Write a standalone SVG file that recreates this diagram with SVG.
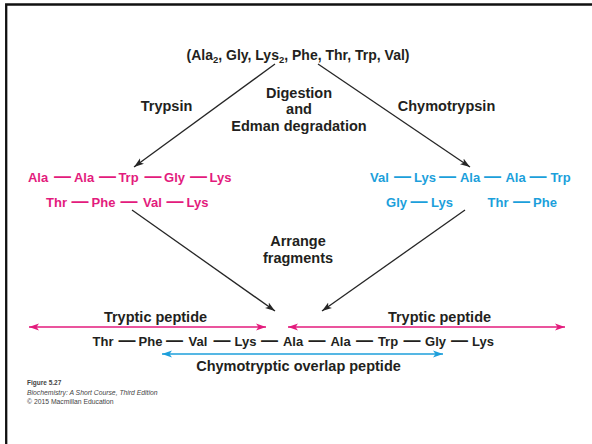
<svg xmlns="http://www.w3.org/2000/svg" width="592" height="444" viewBox="0 0 592 444">
<style>
  .t { font-family: "Liberation Sans", Arial, sans-serif; font-weight: bold; fill: #231f20; text-anchor: middle; }
  .lab { font-size: 14.5px; }
  .aa { font-family: "Liberation Sans", Arial, sans-serif; font-weight: bold; font-size: 13px; text-anchor: middle; }
  .d { font-size: 17px; }
  .pink { fill: #e31b7d; }
  .blue { fill: #1c9fdb; }
  .blk { fill: #231f20; }
  .arr { stroke: #262626; stroke-width: 1.3; fill: none; marker-end: url(#ah); }
  .parr { stroke: #e31b7d; stroke-width: 1.6; fill: none; marker-start: url(#ahp); marker-end: url(#ahp); }
  .barr { stroke: #1c9fdb; stroke-width: 1.6; fill: none; marker-start: url(#ahb); marker-end: url(#ahb); }
  .cap { font-family: "Liberation Sans", Arial, sans-serif; fill: #444; }
</style>
<defs>
  <marker id="ah" markerUnits="userSpaceOnUse" markerWidth="11" markerHeight="8" refX="10" refY="4" orient="auto">
    <path d="M0,0.6 L10,4 L0,7.4 L2.5,4 z" fill="#262626"/>
  </marker>
  <marker id="ahp" markerUnits="userSpaceOnUse" markerWidth="11" markerHeight="8" refX="10" refY="4" orient="auto-start-reverse">
    <path d="M0,0.6 L10,4 L0,7.4 L2.5,4 z" fill="#e31b7d"/>
  </marker>
  <marker id="ahb" markerUnits="userSpaceOnUse" markerWidth="11" markerHeight="8" refX="10" refY="4" orient="auto-start-reverse">
    <path d="M0,0.6 L10,4 L0,7.4 L2.5,4 z" fill="#1c9fdb"/>
  </marker>
</defs>
<rect width="592" height="444" fill="#ffffff"/>
<path d="M6.2,444 V4.5 H592" fill="none" stroke="#111" stroke-width="2.3"/>

<g id="composition">
  <text class="t" x="298" y="60" font-size="14">(Ala<tspan font-size="9.5" dy="3">2</tspan><tspan dy="-3">, Gly, Lys</tspan><tspan font-size="9.5" dy="3">2</tspan><tspan dy="-3">, Phe, Thr, Trp, Val)</tspan></text>
</g>

<g id="labels-top">
  <text class="t lab" x="166.5" y="111">Trypsin</text>
  <text class="t lab" x="446.5" y="111">Chymotrypsin</text>
  <text class="t lab" x="299" y="98">Digestion</text>
  <text class="t lab" x="299" y="114">and</text>
  <text class="t lab" x="299" y="131">Edman degradation</text>
</g>

<g id="tryptic-fragments">
  <text class="aa pink" y="182"><tspan x="38">Ala</tspan><tspan class="d" x="62.5">—</tspan><tspan x="84">Ala</tspan><tspan class="d" x="107.5">—</tspan><tspan x="128.5">Trp</tspan><tspan class="d" x="153">—</tspan><tspan x="174.5">Gly</tspan><tspan class="d" x="198.5">—</tspan><tspan x="220.5">Lys</tspan></text>
  <text class="aa pink" y="207"><tspan x="56.5">Thr</tspan><tspan class="d" x="80">—</tspan><tspan x="103.5">Phe</tspan><tspan class="d" x="129">—</tspan><tspan x="152.5">Val</tspan><tspan class="d" x="175">—</tspan><tspan x="197.5">Lys</tspan></text>
</g>

<g id="chymotryptic-fragments">
  <text class="aa blue" y="182"><tspan x="379.5">Val</tspan><tspan class="d" x="402.5">—</tspan><tspan x="425">Lys</tspan><tspan class="d" x="447.5">—</tspan><tspan x="470">Ala</tspan><tspan class="d" x="492.5">—</tspan><tspan x="515.5">Ala</tspan><tspan class="d" x="538">—</tspan><tspan x="560.5">Trp</tspan></text>
  <text class="aa blue" y="207"><tspan x="396.5">Gly</tspan><tspan class="d" x="419">—</tspan><tspan x="442">Lys</tspan><tspan x="498">Thr</tspan><tspan class="d" x="521.5">—</tspan><tspan x="545">Phe</tspan></text>
</g>

<g id="arrange">
  <text class="t lab" x="298" y="246">Arrange</text>
  <text class="t lab" x="298" y="263">fragments</text>
</g>

<g id="connectors">
  <line class="arr" x1="275" y1="64" x2="134" y2="167"/>
  <line class="arr" x1="318" y1="64" x2="470" y2="167"/>
  <line class="arr" x1="132" y1="210" x2="275" y2="311"/>
  <line class="arr" x1="465" y1="210" x2="322" y2="311"/>
  <line class="parr" x1="29" y1="327" x2="266" y2="327"/>
  <line class="parr" x1="288" y1="327" x2="565" y2="327"/>
  <line class="barr" x1="162" y1="354" x2="443" y2="354"/>
</g>

<g id="tryptic-labels">
  <text class="t lab" x="155.5" y="322">Tryptic peptide</text>
  <text class="t lab" x="439.5" y="322">Tryptic peptide</text>
</g>

<g id="sequence">
  <text class="aa blk" y="346"><tspan x="103">Thr</tspan><tspan class="d" x="127">—</tspan><tspan x="150.5">Phe</tspan><tspan class="d" x="174.5">—</tspan><tspan x="198">Val</tspan><tspan class="d" x="222">—</tspan><tspan x="245.5">Lys</tspan><tspan class="d" x="269.5">—</tspan><tspan x="293">Ala</tspan><tspan class="d" x="317">—</tspan><tspan x="340.5">Ala</tspan><tspan class="d" x="364.5">—</tspan><tspan x="388">Trp</tspan><tspan class="d" x="412">—</tspan><tspan x="435.5">Gly</tspan><tspan class="d" x="459.5">—</tspan><tspan x="483">Lys</tspan></text>
</g>

<g id="overlap-label">
  <text class="t lab" x="298.5" y="371">Chymotryptic overlap peptide</text>
</g>

<g id="caption">
  <text class="cap" x="27" y="385" font-size="6.5" font-weight="bold" fill="#231f20">Figure 5.27</text>
  <text class="cap" x="27" y="395" font-size="6.8" font-style="italic">Biochemistry: A Short Course, Third Edition</text>
  <text class="cap" x="27" y="404" font-size="6.8">© 2015 Macmillan Education</text>
</g>
</svg>
